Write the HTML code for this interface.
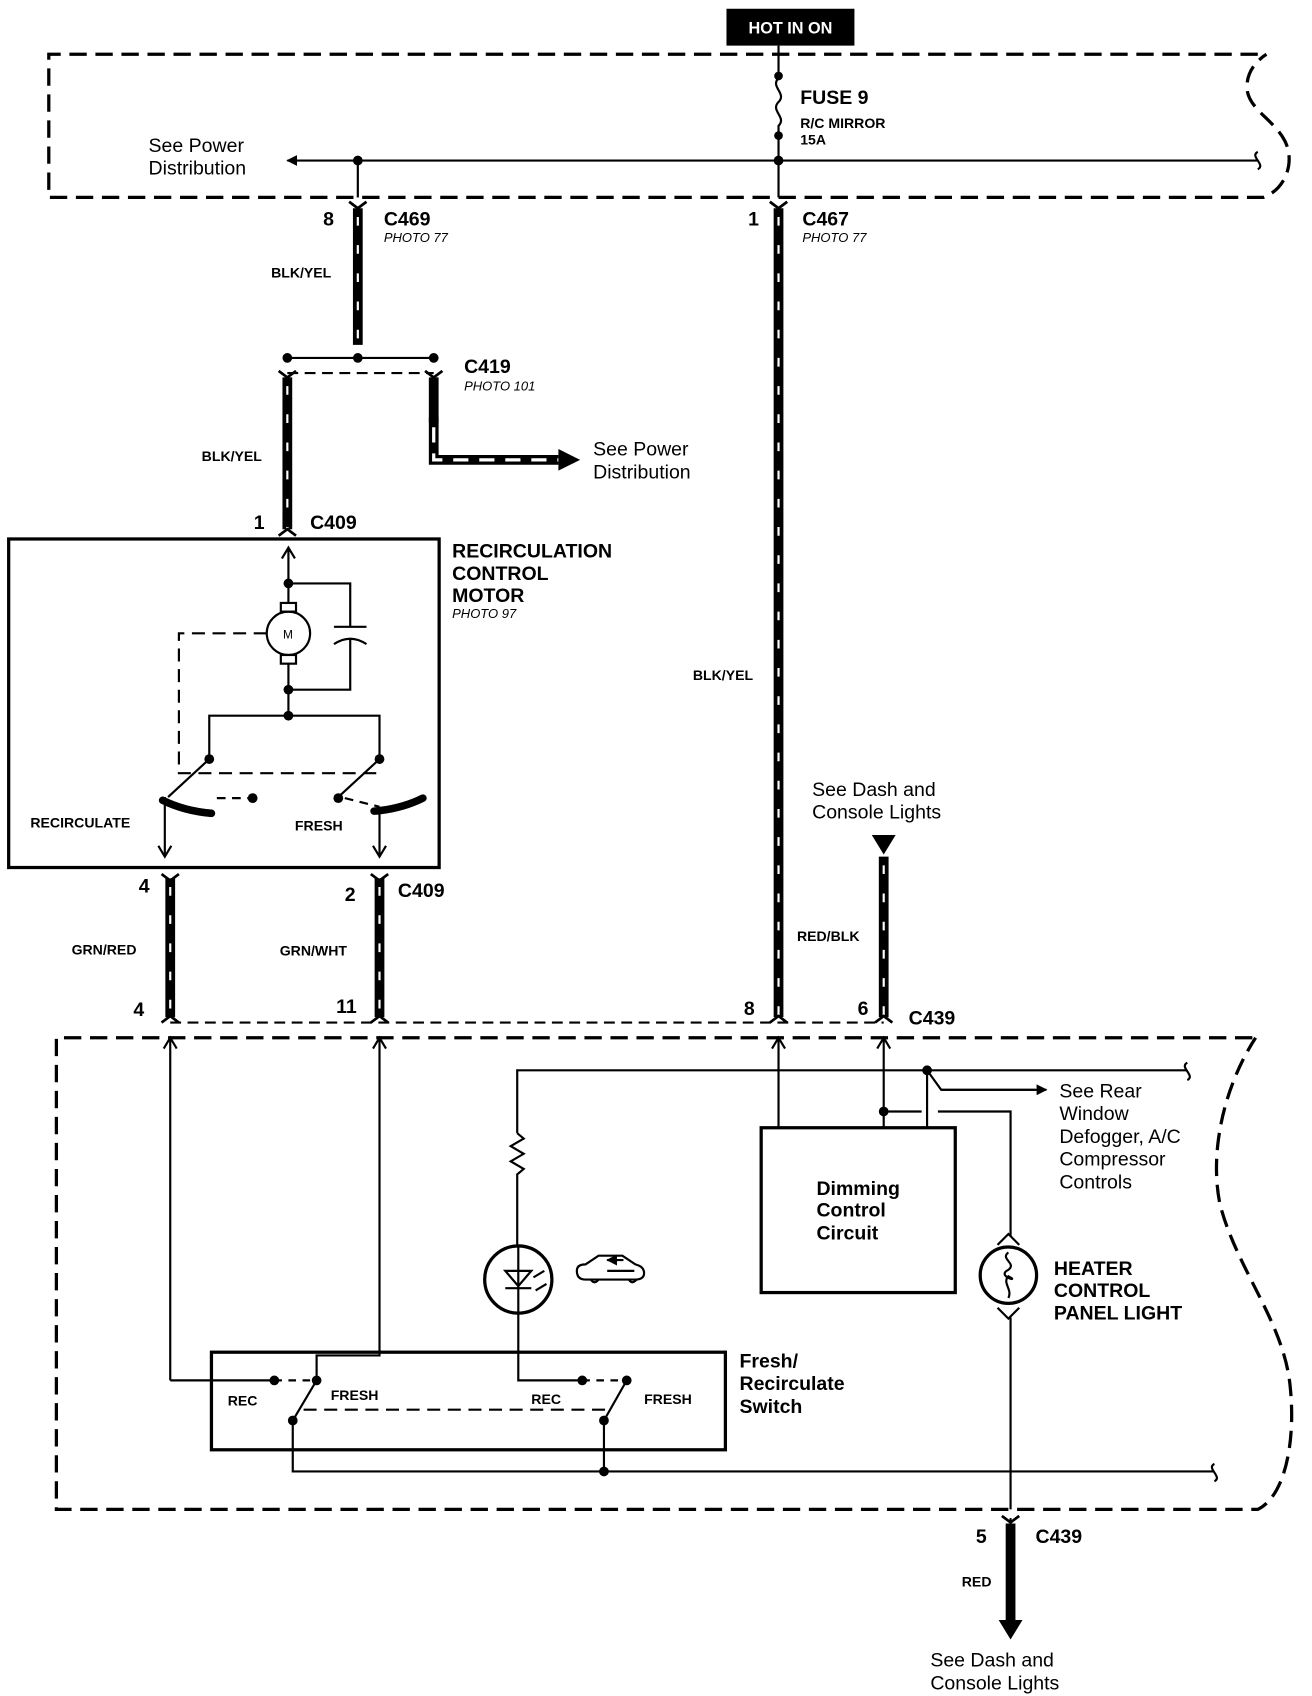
<!DOCTYPE html>
<html><head><meta charset="utf-8"><style>
html,body{margin:0;padding:0;background:#fff}
svg{display:block}
text{font-family:"Liberation Sans",sans-serif;fill:#000}
.b{font-weight:bold}
.i{font-style:italic;font-size:12px}
</style></head><body>
<svg width="1312" height="1696" viewBox="0 0 1210 1564" xmlns="http://www.w3.org/2000/svg">
<defs>
<marker id="ah" markerWidth="10" markerHeight="10" refX="9" refY="5" orient="auto" markerUnits="userSpaceOnUse"><path d="M0,0 L10,5 L0,10 z" fill="#000"/></marker>
<marker id="ao" markerWidth="14" markerHeight="14" refX="12" refY="7" orient="auto" markerUnits="userSpaceOnUse"><path d="M2,1 L12,7 L2,13" fill="none" stroke="#000" stroke-width="2"/></marker>
</defs>
<g fill="none" stroke="#000">
<!-- top dashed box -->
<path d="M1160,50 L45,50 L45,182 L1165,182 C1185,175 1195,150 1185,130 C1175,110 1150,100 1150,80 C1150,65 1160,55 1168,50" stroke-width="3" stroke-dasharray="16,8"/>
<!-- bottom dashed box -->
<path d="M1155,957 L52,957 L52,1392 L1160,1392 C1185,1380 1195,1330 1190,1280 C1185,1220 1140,1170 1125,1110 C1115,1060 1130,1000 1158,957" stroke-width="3" stroke-dasharray="16,8"/>
<!-- thin lines -->
<g stroke-width="2">
<path d="M718,42 V70 M718,125 V182"/>
<path d="M718,72 c-8,8 8,14 0,22 c-8,8 8,14 0,22 v8"/>
<path d="M1160,148 H265" marker-end="url(#ah)"/>
<path d="M1160,140 c-8,4 8,12 0,16"/>
<path d="M330,148 V182"/>
<path d="M265,330 H400"/>
<path d="M265,344 H400" stroke-dasharray="10,6"/>
<path d="M157,943 H815" stroke-dasharray="10,6"/>
<!-- motor internal -->
<path d="M266,660 V505" marker-end="url(#ao)"/>
<path d="M266,538 H323 V578 M308,578 H338 M308,594 q15,-10 30,0 M323,589 V636 H266"/>
<path d="M246,584 H165 V713 H350" stroke-dasharray="12,7"/>
<path d="M193,700 V660 H350 V700"/>
<path d="M193,700 L155,735 M350,700 L312,735"/>
<path d="M200,736 L233,736 M318,736 L350,744" stroke-dasharray="8,6"/>
<path d="M152,735 V790" marker-end="url(#ao)"/>
<path d="M350,745 V790" marker-end="url(#ao)"/>
<!-- bottom circuit -->
<path d="M157,1273 V957" marker-end="url(#ao)"/>
<path d="M350,1248 V957" marker-end="url(#ao)"/>
<path d="M157,1273 H253 M350,1248 H350 L350,1250 L292,1250 V1273"/>
<path d="M718,1040 V957" marker-end="url(#ao)"/>
<path d="M815,1040 V957" marker-end="url(#ao)"/>
<path d="M477,1045 V987 H1095 M1095,980 c-8,4 8,12 0,16"/>
<path d="M477,1045 l6,5 l-12,7 l12,7 l-12,7 l12,7 l-6,5 V1150"/>
<circle cx="478" cy="1180" r="31" stroke-width="3"/>
<path d="M478,1150 V1273 H537"/>
<path d="M466,1172 h24 l-12,14 z M466,1188 h24" stroke-width="2"/>
<path d="M492,1178 l10,-6 M494,1190 l10,-6" stroke-width="2"/>
<path d="M855,987 V1040 M815,1025 H850 M865,1025 H932 V1140 M932,1215 V1392 M855,987 L868,1005 H955" />
<path d="M868,1005 H965" marker-end="url(#ah)"/>
<circle cx="930" cy="1176" r="26" stroke-width="3"/>
<path d="M920,1148 l10,-10 l10,10 M920,1206 l10,10 l10,-10"/>
<path d="M930,1155 c-8,6 8,10 0,16 c-12,6 12,12 0,6 c-6,6 4,12 0,20"/>
<path d="M270,1310 V1357 H1120 M1120,1350 c-8,4 8,12 0,16 M557,1310 V1357"/>
<path d="M270,1310 L292,1273 M557,1310 L578,1273"/>
<path d="M253,1273 H290 M537,1273 H575" stroke-dasharray="7,6"/>
<path d="M280,1300 H560" stroke-dasharray="12,7"/>
<!-- car icon -->
<path d="M532,1172 q0,-6 8,-6 l12,-8 h22 l12,8 q8,2 8,8 q0,6 -8,6 h-46 q-8,0 -8,-8 z"/>
<path d="M545,1180 q3,5 7,0 M580,1180 q3,5 7,0"/>
<path d="M575,1162 h-15" marker-end="url(#ah)"/>
<path d="M560,1172 h25"/>
<path d="M932,1400 V1500"/>
</g>
<!-- boxes -->
<rect x="8" y="497" width="397" height="303" stroke-width="3"/>
<rect x="702" y="1040" width="179" height="152" stroke-width="3"/>
<rect x="195" y="1247" width="474" height="90" stroke-width="3"/>
<!-- motor -->
<circle cx="266" cy="584" r="20" stroke-width="2" fill="#fff"/>
<rect x="259" y="556" width="14" height="8" stroke-width="2" fill="#fff"/>
<rect x="259" y="604" width="14" height="8" stroke-width="2" fill="#fff"/>
<path d="M150,738 q20,10 45,12 M345,748 q25,-2 45,-12" stroke-width="7" stroke-linecap="round"/>
<!-- thick wires -->
<g stroke-width="9">
<path d="M330,192 V318 M718,192 V938 M265,348 V488 M400,348 V390 M157,810 V938 M350,810 V938 M815,790 V938 M932,1405 V1495"/>
<path d="M400,385 V424 H515"/>
</g>
<path d="M400,394 V424 H515" stroke="#fff" stroke-width="3" stroke-dasharray="14,10"/>
<g stroke="#fff" stroke-width="2" stroke-dasharray="8,18">
<path d="M330,200 V318 M718,200 V938 M265,356 V488 M157,818 V938 M350,818 V938 M815,798 V938"/>
</g>
<!-- connector forks -->
<g stroke-width="2.5">
<path d="M322,186 l8,6 l8,-6 M710,186 l8,6 l8,-6 M257,342 l8,6 l8,-6 M392,342 l8,6 l8,-6 M257,494 l8,-6 l8,6 M149,806 l8,6 l8,-6 M342,806 l8,6 l8,-6 M149,943 l8,-6 l8,6 M342,943 l8,-6 l8,6 M710,943 l8,-6 l8,6 M807,943 l8,-6 l8,6 M924,1398 l8,6 l8,-6"/>
</g>
</g>
<!-- arrowheads filled -->
<path d="M515,414 L535,424 L515,434 z"/>
<path d="M804,770 L826,770 L815,788 z"/>
<path d="M921,1494 L943,1494 L932,1512 z"/>
<g fill="#000">
<circle cx="718" cy="70" r="4"/><circle cx="718" cy="125" r="4"/><circle cx="718" cy="148" r="4.5"/><circle cx="330" cy="148" r="4.5"/>
<circle cx="265" cy="330" r="4.5"/><circle cx="330" cy="330" r="4.5"/><circle cx="400" cy="330" r="4.5"/>
<circle cx="266" cy="538" r="4.5"/><circle cx="266" cy="636" r="4.5"/><circle cx="266" cy="660" r="4.5"/>
<circle cx="193" cy="700" r="4.5"/><circle cx="350" cy="700" r="4.5"/><circle cx="233" cy="736" r="4.5"/><circle cx="312" cy="736" r="4.5"/>
<circle cx="855" cy="987" r="4.5"/><circle cx="815" cy="1025" r="4.5"/>
<circle cx="253" cy="1273" r="4.5"/><circle cx="292" cy="1273" r="4.5"/><circle cx="270" cy="1310" r="4.5"/>
<circle cx="537" cy="1273" r="4.5"/><circle cx="578" cy="1273" r="4.5"/><circle cx="557" cy="1310" r="4.5"/><circle cx="557" cy="1357" r="4.5"/>
</g>
<rect x="670" y="8" width="118" height="34" fill="#000"/>
<text x="729" y="31" text-anchor="middle" class="b" font-size="15" style="fill:#fff">HOT IN ON</text>
<g font-size="18">
<text x="137" y="140">See Power</text><text x="137" y="161">Distribution</text>
<text x="547" y="420">See Power</text><text x="547" y="441">Distribution</text>
<text x="749" y="734">See Dash and</text><text x="749" y="755">Console Lights</text>
<text x="977" y="1012">See Rear</text><text x="977" y="1033">Window</text><text x="977" y="1054">Defogger, A/C</text><text x="977" y="1075">Compressor</text><text x="977" y="1096">Controls</text>
<text x="858" y="1537">See Dash and</text><text x="858" y="1558">Console Lights</text>
</g>
<g class="b" font-size="18">
<text x="738" y="96">FUSE 9</text>
<text x="354" y="208">C469</text><text x="740" y="208">C467</text>
<text x="428" y="344">C419</text>
<text x="286" y="488">C409</text><text x="367" y="827">C409</text>
<text x="838" y="945">C439</text><text x="955" y="1423">C439</text>
<text x="298" y="208">8</text><text x="690" y="208">1</text><text x="234" y="488">1</text>
<text x="128" y="823">4</text><text x="318" y="831">2</text><text x="123" y="937">4</text><text x="310" y="934">11</text>
<text x="686" y="936">8</text><text x="791" y="936">6</text><text x="900" y="1423">5</text>
<text x="417" y="514">RECIRCULATION</text><text x="417" y="535">CONTROL</text><text x="417" y="555">MOTOR</text>
<text x="753" y="1102">Dimming</text><text x="753" y="1122">Control</text><text x="753" y="1143">Circuit</text>
<text x="972" y="1176">HEATER</text><text x="972" y="1196">CONTROL</text><text x="972" y="1217">PANEL LIGHT</text>
<text x="682" y="1261">Fresh/</text><text x="682" y="1282">Recirculate</text><text x="682" y="1303">Switch</text>
</g>
<g class="b" font-size="13">
<text x="738" y="118">R/C MIRROR</text><text x="738" y="133">15A</text>
<text x="250" y="256">BLK/YEL</text><text x="186" y="425">BLK/YEL</text><text x="639" y="627">BLK/YEL</text>
<text x="28" y="763">RECIRCULATE</text><text x="272" y="766">FRESH</text>
<text x="66" y="880">GRN/RED</text><text x="258" y="881">GRN/WHT</text><text x="735" y="868">RED/BLK</text>
<text x="210" y="1296">REC</text><text x="305" y="1291">FRESH</text><text x="490" y="1295">REC</text><text x="594" y="1295">FRESH</text>
<text x="887" y="1463">RED</text>
</g>
<text x="354" y="223" class="i">PHOTO 77</text><text x="740" y="223" class="i">PHOTO 77</text>
<text x="428" y="360" class="i">PHOTO 101</text><text x="417" y="570" class="i">PHOTO 97</text>
<text x="261" y="589" font-size="11">M</text>
</svg>
</body></html>
